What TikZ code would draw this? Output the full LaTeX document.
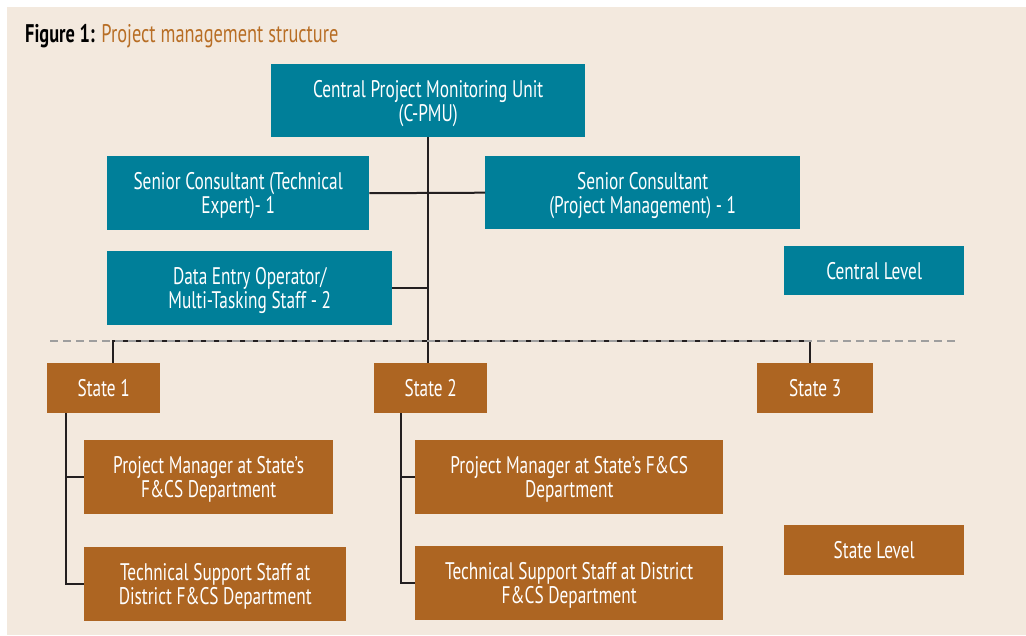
\documentclass[tikz,border=0pt]{standalone}
\usepackage{fontspec}
\setmainfont{PT Sans}[FakeStretch=0.72]
\usepackage{tikz}
\usetikzlibrary{positioning}

\definecolor{pageBg}{RGB}{243,233,222}
\definecolor{tealBox}{RGB}{0,127,153}
\definecolor{brownBox}{RGB}{173,101,34}
\definecolor{titleOrange}{RGB}{184,110,37}
\definecolor{lineBlack}{RGB}{35,31,32}
\definecolor{dashGray}{RGB}{158,158,158}

\begin{document}
\begin{tikzpicture}[x=1pt,y=-1pt]
	\tikzstyle{every node}=[font=\fontsize{24}{24}\selectfont]
	\tikzstyle{orgbox}=[rectangle,anchor=north west,inner sep=0pt,
	text=white,align=center,text depth=0pt]
	\tikzstyle{central}=[orgbox,fill=tealBox]
	\tikzstyle{state}=[orgbox,fill=brownBox]
	\tikzstyle{link}=[draw=lineBlack,line width=2pt]
	
	%% Page
	\useasboundingbox (0,0) rectangle (1026,635);
	\fill[pageBg] (7,7) rectangle (1026,635);
	\node [anchor=base west,inner sep=0pt,font=\fontsize{25.5}{26}\selectfont] (title) at (25,42)
	{\textbf{Figure 1:} \textcolor{titleOrange}{Project management structure}};
	
	%% Central level
	\node [central,minimum width=314pt,minimum height=73pt] (cpmu) at (271,64)
	{Central Project Monitoring Unit\\(C-PMU)};
	\node [central,minimum width=262pt,minimum height=74pt] (senTech) at (107,156)
	{Senior Consultant (Technical\\Expert)- 1};
	\node [central,minimum width=315pt,minimum height=73pt] (senPM) at (485,156)
	{Senior Consultant\\(Project Management) - 1};
	\node [central,minimum width=285pt,minimum height=74pt] (deo) at (107,251)
	{Data Entry Operator/\\Multi-Tasking Staff - 2};
	\node [central,minimum width=180pt,minimum height=49pt] (centralLevel) at (784,246)
	{Central Level};
	
	%% State level
	\node [state,minimum width=113pt,minimum height=50pt] (state1) at (47,363) {State 1};
	\node [state,minimum width=113pt,minimum height=50pt] (state2) at (374,363) {State 2};
	\node [state,minimum width=116pt,minimum height=50pt] (state3) at (757,363) {State 3};
	\node [state,minimum width=249pt,minimum height=74pt] (pm1) at (84,440)
	{Project Manager at State's\\F\&CS Department};
	\node [state,minimum width=262pt,minimum height=74pt] (tss1) at (84,547)
	{Technical Support Staff at\\District F\&CS Department};
	\node [state,minimum width=308pt,minimum height=74pt] (pm2) at (415,440)
	{Project Manager at State's F\&CS\\Department};
	\node [state,minimum width=308pt,minimum height=74pt] (tss2) at (415,546)
	{Technical Support Staff at District\\F\&CS Department};
	\node [state,minimum width=180pt,minimum height=50pt] (stateLevel) at (784,525)
	{State Level};
	
	%% Connectors
	\coordinate (bus1) at (113,341);
	\coordinate (bus3) at (810,341);
	\coordinate (tree1) at ([xshift=19pt]state1.south west);
	\coordinate (tree2) at ([xshift=27pt]state2.south west);
	
	\draw [link] (cpmu.south) -- (cpmu.south |- state2.north);
	\draw [link] (senTech.east) -- (senPM.west);
	\draw [link] (deo.east) -- (deo.east -| cpmu.south);
	\draw [link] (bus1 |- state1.north) -- (bus1) -- (bus3) -- (bus3 |- state3.north);
	\draw [link] (tree1) |- (pm1.west);
	\draw [link] (tree1) |- (tss1.west);
	\draw [link] (tree2) |- (pm2.west);
	\draw [link] (tree2) |- (tss2.west);
	
	%% Divider between the levels
	\draw [dashGray,line width=2.5pt,dash pattern=on 8pt off 5pt] (50,341) -- (957,341);
	
\end{tikzpicture}
\end{document}
